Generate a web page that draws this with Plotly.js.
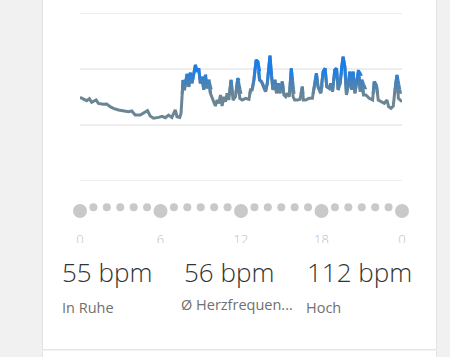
<!DOCTYPE html>
<html>
<head>
<meta charset="utf-8">
<script src="https://cdn.plot.ly/plotly-3.0.1.min.js"></script>
<style>
  html, body { margin: 0; padding: 0; width: 450px; height: 357px; overflow: hidden; background: #f1f1f1; }
  #card { position: absolute; left: 42px; top: -2px; width: 393px; height: 351px; background: #fff;
          border-left: 1px solid #e3e3e3; border-right: 1px solid #e3e3e3; border-bottom: 1px solid #e6e6e6; }
  #card2 { position: absolute; left: 42px; top: 351px; width: 393px; height: 20px; background: #fff;
          border-left: 1px solid #e3e3e3; border-right: 1px solid #e3e3e3; }
  #chart { position: absolute; left: 0; top: 0; width: 450px; height: 357px; }
</style>
</head>
<body>
<div id="card"></div>
<div id="card2"></div>
<div id="chart"></div>
<script>
// ---- data ----
const hours = [0,0.25,0.5,0.7,0.87,1.2,1.37,1.74,1.99,2.24,2.49,2.87,3.24,3.61,3.86,4.11,4.49,4.74,5.03,5.23,5.48,5.86,6.11,6.36,6.6,6.85,7.1,7.23,7.43,7.53,
  7.68,7.78,7.98,8.1,8.22,8.35,8.47,8.6,8.72,8.85,8.97,9.1,9.22,9.35,9.47,9.6,9.72,9.92,10.09,10.22,10.34,10.47,10.59,10.72,10.84,10.97,11.09,11.26,11.41,11.59,
  11.76,11.91,12.09,12.34,12.59,12.71,12.83,12.96,13.13,13.26,13.38,13.53,13.71,13.83,13.96,14.16,14.26,14.38,14.53,14.65,14.78,14.9,15.08,15.2,15.33,15.45,15.6,15.75,15.88,16.0,
  16.2,16.4,16.57,16.65,16.82,17.07,17.32,17.5,17.62,17.74,17.94,18.12,18.27,18.39,18.57,18.69,18.82,18.99,19.12,19.24,19.39,19.51,19.61,19.74,19.86,19.99,20.11,20.24,20.36,20.49,
  20.61,20.76,20.89,21.01,21.13,21.31,21.56,21.81,21.93,22.11,22.23,22.43,22.68,22.88,23.0,23.18,23.35,23.5,23.63,23.73,23.88,24.0];
const bpm = [74.7,72.9,71.7,73.5,70.2,72.3,69.3,68.5,68.8,66.4,64.9,63.4,62.8,61.9,62.5,58.9,58.9,60.4,62.8,58.0,56.0,56.8,57.7,56.5,58.9,56.8,63.4,57.4,56.8,60.4,
  90.2,81.3,95.5,84.2,96.7,87.2,94.6,103.6,97.6,100.6,87.2,93.2,81.3,94.6,82.7,90.2,78.3,72.3,67.0,72.3,69.3,76.8,67.0,75.3,70.8,78.3,72.3,90.2,72.3,75.3,
  91.7,73.8,72.3,73.8,72.9,81.3,81.3,90.2,108.0,106.5,90.2,88.7,84.2,79.8,87.2,112.0,96.1,81.3,90.2,78.3,87.2,78.3,88.7,76.8,75.3,78.3,75.3,100.6,75.3,72.3,
  72.3,72.9,84.2,72.3,72.3,73.8,73.8,87.2,96.1,84.2,78.3,97.6,100.6,84.2,82.7,87.2,79.8,99.1,100.6,81.3,87.2,102.1,111.0,102.1,76.8,85.7,97.6,81.3,97.6,78.3,
  87.2,99.1,79.8,90.2,76.8,76.8,73.8,72.3,88.7,84.2,72.3,70.8,69.3,72.3,66.4,64.9,67.0,84.2,94.6,73.8,72.3,70.8];
const gridValues = [0, 50, 100, 150];
const majorHours = [0, 6, 12, 18, 24];
const minorHours = [1,2,3,4,5,7,8,9,10,11,13,14,15,16,17,19,20,21,22,23];
const hourLabels = ['0', '6', '12', '18', '0'];
const statValues = ['55 bpm', '56 bpm', '112 bpm'];
const statLabels = ['In Ruhe', 'Ø Herzfrequen...', 'Hoch'];

// ---- layout geometry (pixels) ----
const W = 450, H = 357, L = 80, R = 48, T = 13, B = 0;
const plotH = H - T - B, plotW = W - L - R;
const py = Y => (H - B - Y) / plotH;      // pixel Y -> paper y
const px = X => (X - L) / plotW;          // pixel X -> paper x
const lineBottom = py(181);
const vMax = 150;
const dv = v => lineBottom + (v / vMax) * (1 - lineBottom);

const gray = [106, 133, 148], blue = [26, 126, 232];
const mix = t => 'rgb(' + gray.map((g, i) => Math.round(g + (blue[i] - g) * t)).join(',') + ')';
const LW = 3;

const traces = [{
  x: hours, y: bpm, type: 'scatter', mode: 'lines', xaxis: 'x', yaxis: 'y',
  line: { color: mix(0), width: LW, shape: 'linear' }, hoverinfo: 'skip'
}];
const layout = {
  width: W, height: H, margin: { l: L, r: R, t: T, b: B },
  paper_bgcolor: 'rgba(0,0,0,0)', plot_bgcolor: 'rgba(0,0,0,0)',
  showlegend: false, font: { family: 'Open Sans, sans-serif' },
  xaxis: { range: [0, 24], anchor: 'y', showgrid: false, zeroline: false, showticklabels: false, showline: false, ticks: '', fixedrange: true },
  yaxis: { domain: [lineBottom, 1], range: [0, vMax], showgrid: false,
           zeroline: false, showticklabels: false, ticks: '', showline: false, fixedrange: true },
  shapes: [], annotations: []
};
gridValues.forEach(v => layout.shapes.push({ type: 'line', layer: 'below', xref: 'x', yref: 'y',
  x0: 0, x1: 24, y0: v, y1: v, line: { color: '#e9e9e9', width: 1.5 } }));

// gradient bands
const bandEdges = [78, 82, 86, 90, 94, 98, vMax];
for (let k = 0; k < bandEdges.length - 1; k++) {
  const lo = bandEdges[k], hi = bandEdges[k + 1];
  const t = k === bandEdges.length - 2 ? 1 : (k + 0.5) / (bandEdges.length - 2);
  const ax = 'y' + (k + 2);
  layout['yaxis' + (k + 2)] = { domain: [dv(lo), dv(hi)], range: [lo, hi], visible: false, fixedrange: true, anchor: 'x' };
  traces.push({ x: hours, y: bpm, type: 'scatter', mode: 'lines', xaxis: 'x', yaxis: ax,
    line: { color: mix(t), width: LW }, hoverinfo: 'skip' });
}

// dots row
const dotAx = 'y' + (bandEdges.length + 1);
layout['yaxis' + (bandEdges.length + 1)] = { domain: [py(230), py(195)], range: [0, 35], visible: false, fixedrange: true, anchor: 'x2' };
layout.xaxis2 = { matches: 'x', range: [0, 24], anchor: dotAx, showgrid: false, zeroline: false, showline: false, ticks: '',
  tickvals: majorHours, ticktext: hourLabels, tickfont: { size: 13, color: '#bdbdbd', family: 'Open Sans, sans-serif', weight: 300 },
  ticklabelstandoff: 0, fixedrange: true };
traces.push({ x: minorHours, y: minorHours.map(() => 22.7), type: 'scatter', mode: 'markers', xaxis: 'x2', yaxis: dotAx,
  marker: { size: 8, color: '#c9c9c9', line: { width: 0 } }, hoverinfo: 'skip', cliponaxis: false });
traces.push({ x: majorHours, y: majorHours.map(() => 19), type: 'scatter', mode: 'markers', xaxis: 'x2', yaxis: dotAx,
  marker: { size: 14, color: '#c9c9c9', line: { width: 0 } }, hoverinfo: 'skip', cliponaxis: false });

// clip of hour labels
layout.shapes.push({ type: 'rect', layer: 'above', xref: 'paper', yref: 'paper',
  x0: px(60), x1: px(425), y0: py(254), y1: py(243), fillcolor: '#ffffff', line: { width: 0 } });

// stats
const statX = [62, 184, 307];
const labelX = [62, 181, 306];
const labelY = [307, 304, 307];
statValues.forEach((s, i) => {
  layout.annotations.push({ text: s, xref: 'paper', yref: 'paper', x: px(statX[i]) , y: py(272), xanchor: 'left', yanchor: 'middle',
    showarrow: false, font: { size: 26, color: '#333333', family: 'Open Sans, sans-serif', weight: 300 }, xshift: -2 });
});
statLabels.forEach((s, i) => {
  layout.annotations.push({ text: s, xref: 'paper', yref: 'paper', x: px(labelX[i]), y: py(labelY[i]), xanchor: 'left', yanchor: 'middle',
    showarrow: false, font: { size: 14.5, color: '#707070', family: 'Open Sans, sans-serif' }, xshift: -2 });
});

Plotly.newPlot('chart', traces, layout, { displayModeBar: false, staticPlot: true });
</script>
</body>
</html>
